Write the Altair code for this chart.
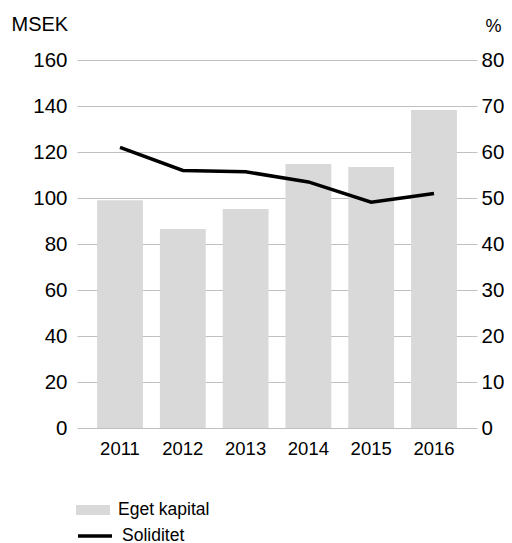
import altair as alt
import pandas as pd

years = ["2011", "2012", "2013", "2014", "2015", "2016"]
eget_kapital = [99.0, 86.5, 95.2, 114.8, 113.5, 138.3]
soliditet = [61.0, 56.0, 55.7, 53.5, 49.1, 51.0]
left_ticks = [0, 20, 40, 60, 80, 100, 120, 140, 160]
right_ticks = [0, 10, 20, 30, 40, 50, 60, 70, 80]

df = pd.DataFrame({
    "year": years,
    "eget": eget_kapital,
    "sol": soliditet,
    "s1": ["Eget kapital"] * len(years),
    "s2": ["Soliditet"] * len(years),
})

FONT = "Liberation Sans"

x = alt.X(
    "year:N", sort=years,
    scale=alt.Scale(paddingInner=0.27, paddingOuter=0.32),
    axis=alt.Axis(title=None, labelAngle=0, domain=False, ticks=False,
                  labelFontSize=18.5, labelPadding=11, labelColor="#000", labelFont=FONT),
)

bars = alt.Chart(df).mark_bar().encode(
    x=x,
    y=alt.Y(
        "eget:Q",
        scale=alt.Scale(domain=[0, 160], nice=False),
        axis=alt.Axis(values=left_ticks, title="MSEK", titleAngle=0, titleAlign="left",
                      titleBaseline="alphabetic", titleX=-66, titleY=-30,
                      titleFontSize=20, titleFontWeight="normal", titleFont=FONT, titleColor="#000",
                      grid=True, gridColor="#c0c0c0", gridWidth=1, domain=False, ticks=False,
                      labelPadding=10, labelFontSize=20.5, labelFont=FONT, labelColor="#000"),
    ),
    fill=alt.Fill(
        "s1:N",
        scale=alt.Scale(domain=["Eget kapital"], range=["#d9d9d9"]),
        legend=alt.Legend(title=None, orient="none", legendX=-1, legendY=433, padding=0,
                          symbolType="M-1,-0.3H1V0.3H-1Z", symbolSize=1156,
                          symbolStrokeWidth=0, labelFontSize=17.5, labelFont=FONT,
                          labelColor="#000", labelOffset=8),
    ),
)

line = alt.Chart(df).mark_line(strokeWidth=3.5).encode(
    x=x,
    y=alt.Y(
        "sol:Q",
        scale=alt.Scale(domain=[0, 80], nice=False),
        axis=alt.Axis(values=right_ticks, orient="right", title="%", titleAngle=0,
                      titleAlign="left", titleBaseline="alphabetic", titleX=8, titleY=-29,
                      titleFontSize=18, titleFontWeight="normal", titleFont=FONT, titleColor="#000",
                      grid=False, domain=False, ticks=False, labelPadding=4,
                      labelFontSize=20.5, labelFont=FONT, labelColor="#000"),
    ),
    stroke=alt.Stroke(
        "s2:N",
        scale=alt.Scale(domain=["Soliditet"], range=["#000000"]),
        legend=alt.Legend(title=None, orient="none", legendX=-1, legendY=457, padding=0,
                          symbolSize=1156, symbolStrokeWidth=3.5, labelFontSize=17.5,
                          labelFont=FONT, labelColor="#000", labelOffset=8),
    ),
)

chart = alt.layer(bars, line).resolve_scale(y="independent").properties(
    width=400, height=368,
    autosize=alt.AutoSizeParams(type="none"),
    padding={"left": 69, "top": 52, "right": 27, "bottom": 116},
).configure_view(stroke=None)

chart.save("out.html", embed_options={"renderer": "svg", "actions": False})
